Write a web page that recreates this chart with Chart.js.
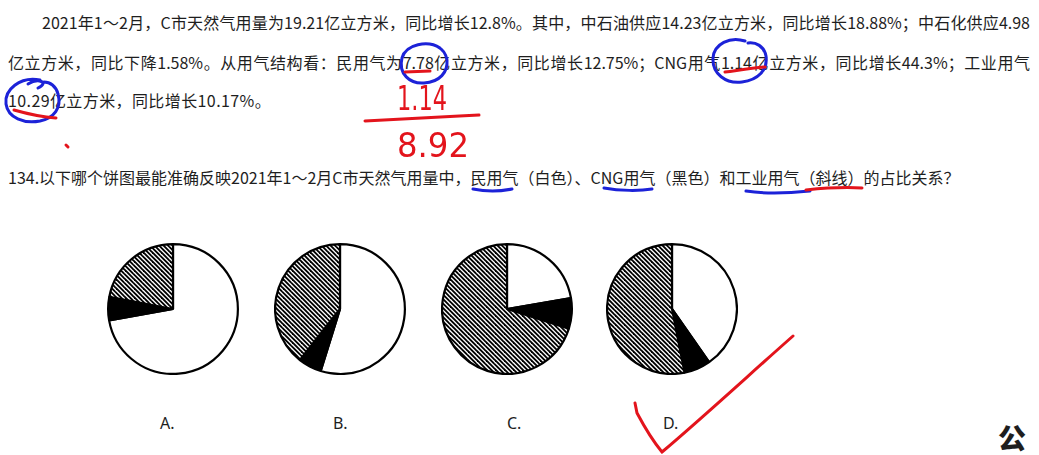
<!DOCTYPE html>
<html>
<head>
<meta charset="utf-8">
<script src="https://cdn.jsdelivr.net/npm/chart.js@4/dist/chart.umd.min.js"></script>
<style>
  html, body { margin: 0; padding: 0; background: #fff; overflow: hidden; }
  body { width: 1039px; height: 455px; position: relative; font-family: "Noto Sans CJK SC", "Noto Sans", sans-serif; color: #1e1e1e; }
  .line { position: absolute; font-size: 16px; line-height: 22px; white-space: nowrap; }
  .just { text-align: justify; text-align-last: justify; white-space: normal; }
  .pie { position: absolute; }
  .lbl { position: absolute; font-size: 16px; line-height: 20px; font-family: "Noto Sans", sans-serif; }
  svg { position: absolute; left: 0; top: 0; pointer-events: none; }
</style>
</head>
<body>
<div class="line just" style="left:42px; top:11px; width:988px;">2021年1～2月，C市天然气用量为19.21亿立方米，同比增长12.8%。其中，中石油供应14.23亿立方米，同比增长18.88%；中石化供应4.98</div>
<div class="line just" style="left:8px; top:51px; width:1022px;">亿立方米，同比下降1.58%。从用气结构看：民用气为7.78亿立方米，同比增长12.75%；CNG用气1.14亿立方米，同比增长44.3%；工业用气</div>
<div class="line" style="left:8px; top:89px; letter-spacing:0.4px;">10.29亿立方米，同比增长10.17%。</div>
<div class="line" style="left:8px; top:166px;">134.以下哪个饼图最能准确反映2021年1～2月C市天然气用量中，民用气（白色）、CNG用气（黑色）和工业用气（斜线）的占比关系？</div>

<canvas id="pA" class="pie" width="132" height="132" style="left:107px; top:243px;"></canvas>
<canvas id="pB" class="pie" width="132" height="132" style="left:274px; top:243px;"></canvas>
<canvas id="pC" class="pie" width="132" height="132" style="left:441px; top:243px;"></canvas>
<canvas id="pD" class="pie" width="132" height="132" style="left:606px; top:243px;"></canvas>

<div class="lbl" id="lA" style="left:160px; top:413px;"></div>
<div class="lbl" id="lB" style="left:333px; top:413px;"></div>
<div class="lbl" id="lC" style="left:507px; top:413px;"></div>
<div class="lbl" id="lD" style="left:663px; top:413px;"></div>

<div style="position:absolute; left:998px; top:422px; font-size:28px; line-height:30px; font-weight:900; font-family:'Noto Sans CJK SC';">公</div>

<svg width="1039" height="455" viewBox="0 0 1039 455">
  <g fill="none" stroke="#1c22d8" stroke-width="3" stroke-linecap="round">
    <path d="M440 48 C428 40 406 44 402 58 C398 74 410 84 424 83 C440 82 448 72 447 60 C446 54 444 50 438 47"/>
    <path d="M745 41 C730 36 714 44 713 58 C712 74 726 84 742 82 C758 80 768 70 766 56 C764 46 756 42 748 43"/>
    <path d="M28 84 C38 78 50 82 38 88 M40 80 C20 76 4 90 6 104 C8 118 24 124 40 121 C54 118 62 108 58 94 C56 86 50 82 44 82"/>
    <path d="M473 189 C488 192 502 191 512 189"/>
    <path d="M604 188 C620 191 640 191 652 189"/>
    <path d="M746 191 C765 194 790 193 810 191"/>
  </g>
  <g fill="none" stroke="#e3141c" stroke-width="3" stroke-linecap="round">
    <path d="M405 72 L430 71"/>
    <path d="M725 72 C740 70 752 68 765 67"/>
    <path d="M14 110 C28 114 42 117 56 118"/>
    <path d="M806 190 C825 188 845 187 862 188"/>
    <path d="M365 121 C400 119 440 117 479 115"/>
    <path d="M635 403 L637 413 C645 428 652 440 662 452 C700 420 750 374 793 336"/>
    <path d="M66 145 L68 147"/>
  </g>
  <g fill="#e3141c" font-family="DejaVu Sans" font-size="34">
    <text x="397" y="110" textLength="50" lengthAdjust="spacingAndGlyphs">1.14</text>
    <text x="397" y="157" textLength="72" lengthAdjust="spacingAndGlyphs">8.92</text>
  </g>
</svg>

<script>
// ---- data ----
const categories = ['民用气（白色）', 'CNG用气（黑色）', '工业用气（斜线）'];
const optionLabels = ['A.', 'B.', 'C.', 'D.'];
const pieA = [72.2, 5.8, 22.0];
const pieB = [54.8, 5.8, 39.4];
const pieC = [22.3, 7.6, 70.1];
const pieD = [40.3, 6.6, 53.1];

function makeHatch() {
  const s = 9;
  const c = document.createElement('canvas');
  c.width = s; c.height = s;
  const g = c.getContext('2d');
  g.fillStyle = '#fff';
  g.fillRect(0, 0, s, s);
  g.strokeStyle = '#000';
  g.lineWidth = 1.9;
  for (let k = -2; k <= 2; k++) {
    const off = k * s / 2;
    g.beginPath();
    g.moveTo(-2, -2 + off);
    g.lineTo(s + 2, s + 2 + off);
    g.stroke();
  }
  return g.createPattern(c, 'repeat');
}

function drawPie(id, values) {
  const ctx = document.getElementById(id).getContext('2d');
  new Chart(ctx, {
    type: 'pie',
    data: {
      labels: categories,
      datasets: [{
        data: values,
        backgroundColor: ['#ffffff', '#000000', makeHatch()],
        borderColor: '#000000',
        borderWidth: 2.2
      }]
    },
    options: {
      responsive: false,
      animation: false,
      layout: { padding: 0 },
      plugins: { legend: { display: false }, tooltip: { enabled: false } }
    }
  });
}

drawPie('pA', pieA);
drawPie('pB', pieB);
drawPie('pC', pieC);
drawPie('pD', pieD);

['lA', 'lB', 'lC', 'lD'].forEach((id, i) => {
  document.getElementById(id).textContent = optionLabels[i];
});
</script>
</body>
</html>
